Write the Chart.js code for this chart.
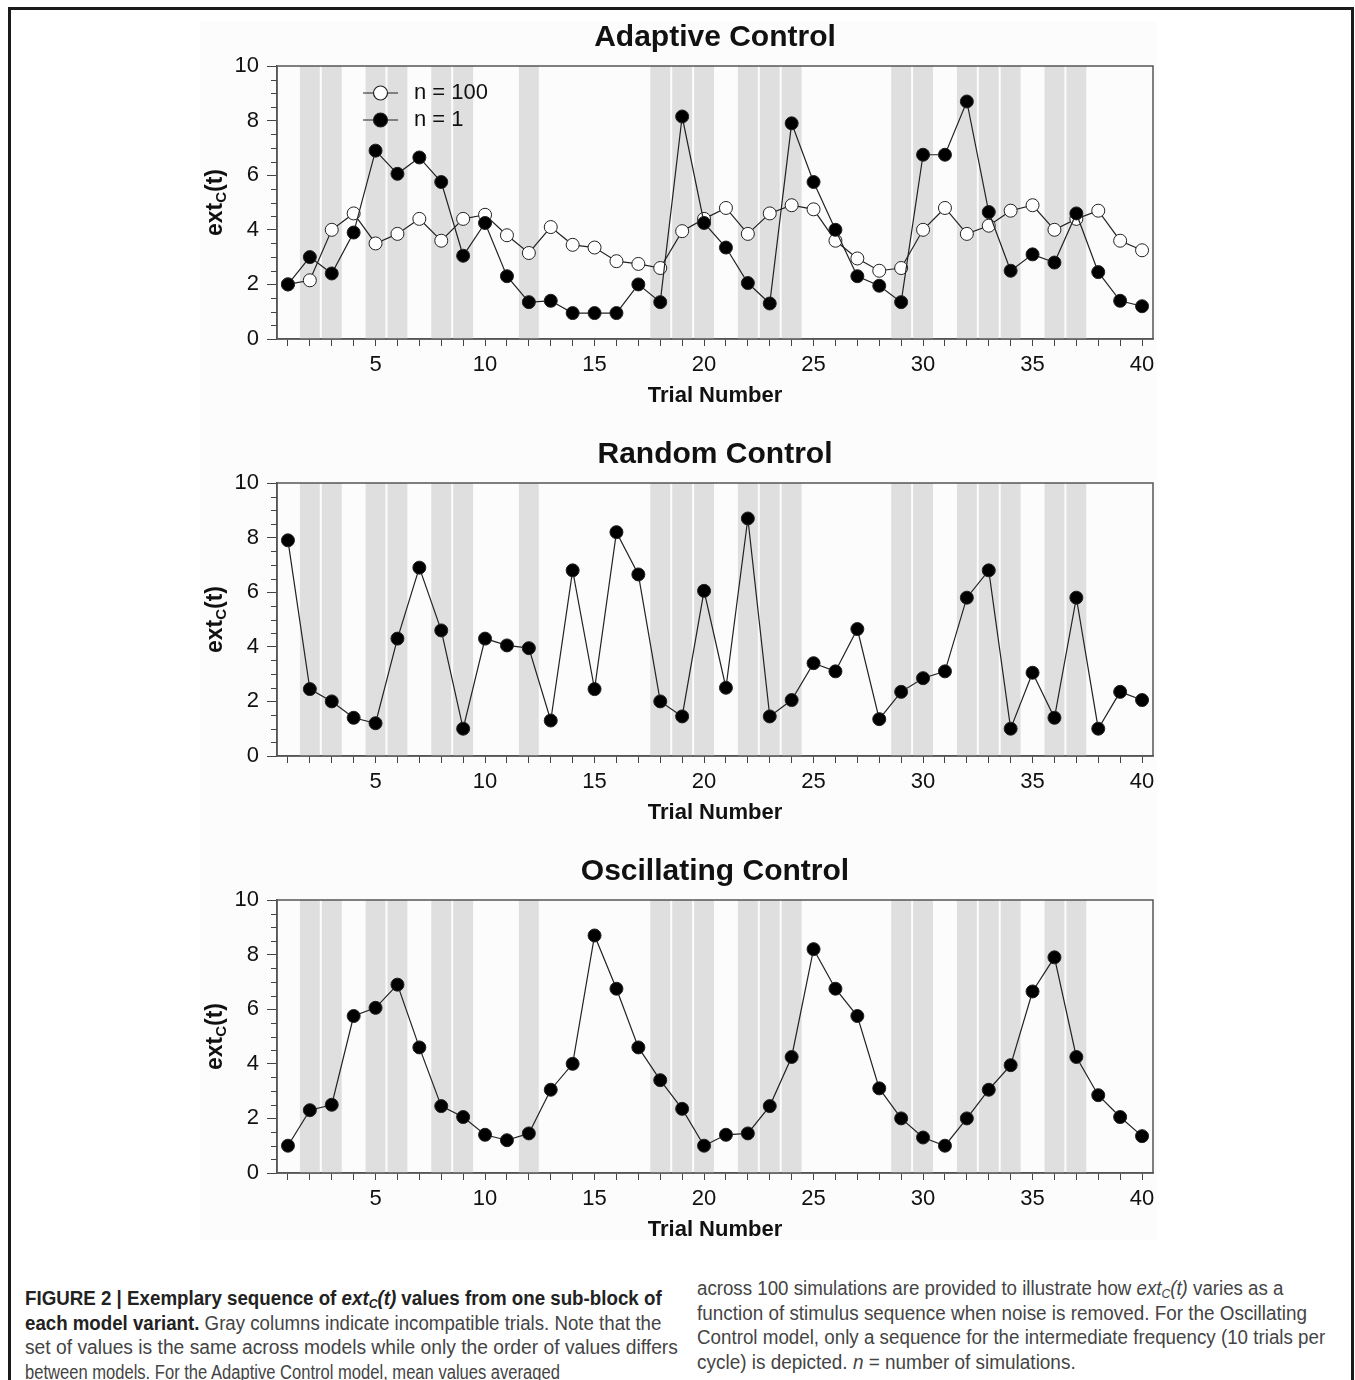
<!DOCTYPE html>
<html>
<head>
<meta charset="utf-8">
<script src="https://cdn.jsdelivr.net/npm/chart.js@4.4.1/dist/chart.umd.min.js"></script>
<style>
body { margin: 0; background: #fff; width: 1355px; height: 1380px; overflow: hidden; position: relative; font-family: "Liberation Sans", Arial, sans-serif; }
#frame { position: absolute; left: 8px; top: 7px; width: 1340px; height: 1420px; border: 3px solid #1b1b1b; }
#plotbg { position: absolute; left: 200px; top: 22px; width: 957px; height: 1218px; background: #fcfcfc; }
.panel { position: absolute; left: 150px; }
.cap { position: absolute; white-space: nowrap; font-size: 20px; line-height: 24px; height: 24px; color: #444; transform-origin: 0 50%; }
.cap b { color: #222; }
.cap sub { font-size: 0.65em; line-height: 0; vertical-align: -0.25em; }
</style>
</head>
<body>
<div id="frame"></div>
<div id="plotbg"></div>
<canvas id="adaptive" class="panel" width="1050" height="410" style="top:10px"></canvas>
<canvas id="random" class="panel" width="1050" height="410" style="top:427px"></canvas>
<canvas id="oscillating" class="panel" width="1050" height="410" style="top:844px"></canvas>

<div class="cap" data-w="637" style="left:25px;top:1286px"><b>FIGURE 2 | Exemplary sequence of <i>ext<sub>C</sub>(t)</i> values from one sub-block of</b></div>
<div class="cap" data-w="636" style="left:25px;top:1310.5px"><b>each model variant.</b> Gray columns indicate incompatible trials. Note that the</div>
<div class="cap" data-w="653" style="left:25px;top:1335px">set of values is the same across models while only the order of values differs</div>
<div class="cap" data-w="535" style="left:25px;top:1359.5px">between models. For the Adaptive Control model, mean values averaged</div>
<div class="cap" data-w="586" style="left:697px;top:1276px">across 100 simulations are provided to illustrate how <i>ext<sub>C</sub>(t)</i> varies as a</div>
<div class="cap" data-w="610" style="left:697px;top:1300.5px">function of stimulus sequence when noise is removed. For the Oscillating</div>
<div class="cap" data-w="628" style="left:697px;top:1325px">Control model, only a sequence for the intermediate frequency (10 trials per</div>
<div class="cap" data-w="379" style="left:697px;top:1349.5px">cycle) is depicted. <i>n</i> = number of simulations.</div>

<script>
// trial axis and incompatible (gray) trials
const trials = [1, 2, 3, 4, 5, 6, 7, 8, 9, 10, 11, 12, 13, 14, 15, 16, 17, 18, 19, 20,
    21, 22, 23, 24, 25, 26, 27, 28, 29, 30, 31, 32, 33, 34, 35, 36, 37, 38, 39, 40];
const incompatible = [2, 3, 5, 6, 8, 9, 12, 18, 19, 20, 22, 23, 24, 29, 30, 32, 33, 34, 36, 37];
const xTickLabels = [5, 10, 15, 20, 25, 30, 35, 40];
const yTicks = [0, 2, 4, 6, 8, 10];

// ext_C(t) values
const adaptiveN1 = [2.0, 3.0, 2.4, 3.9, 6.9, 6.05, 6.65, 5.75, 3.05, 4.25, 2.3, 1.35, 1.4, 0.95, 0.95, 0.95, 2.0, 1.35, 8.15, 4.25,
    3.35, 2.05, 1.3, 7.9, 5.75, 4.0, 2.3, 1.95, 1.35, 6.75, 6.75, 8.7, 4.65, 2.5, 3.1, 2.8, 4.6, 2.45, 1.4, 1.2];
const adaptiveN100 = [2.0, 2.15, 4.0, 4.6, 3.5, 3.85, 4.4, 3.6, 4.4, 4.55, 3.8, 3.15, 4.1, 3.45, 3.35, 2.85, 2.75, 2.6, 3.95, 4.4,
    4.8, 3.85, 4.6, 4.9, 4.75, 3.6, 2.95, 2.5, 2.6, 4.0, 4.8, 3.85, 4.15, 4.7, 4.9, 4.0, 4.4, 4.7, 3.6, 3.25];
const randomN1 = [7.9, 2.45, 2.0, 1.4, 1.2, 4.3, 6.9, 4.6, 1.0, 4.3, 4.05, 3.95, 1.3, 6.8, 2.45, 8.2, 6.65, 2.0, 1.45, 6.05,
    2.5, 8.7, 1.45, 2.05, 3.4, 3.1, 4.65, 1.35, 2.35, 2.85, 3.1, 5.8, 6.8, 1.0, 3.05, 1.4, 5.8, 1.0, 2.35, 2.05];
const oscillatingN1 = [1.0, 2.3, 2.5, 5.75, 6.05, 6.9, 4.6, 2.45, 2.05, 1.4, 1.2, 1.45, 3.05, 4.0, 8.7, 6.75, 4.6, 3.4, 2.35, 1.0,
    1.4, 1.45, 2.45, 4.25, 8.2, 6.75, 5.75, 3.1, 2.0, 1.3, 1.0, 2.0, 3.05, 3.95, 6.65, 7.9, 4.25, 2.85, 2.05, 1.35];

const family = '"Liberation Sans", Arial, sans-serif';
const ink = '#111';

// gray columns behind the data
const columns = {
    id: 'columns',
    beforeDatasetsDraw(chart) {
        const { ctx, chartArea } = chart;
        const xs = chart.scales.x;
        ctx.save();
        ctx.fillStyle = '#dfdfdf';
        incompatible.forEach(t => {
            const x0 = xs.getPixelForValue(t - 0.5) + 1;
            const x1 = xs.getPixelForValue(t + 0.5) - 1;
            ctx.fillRect(x0, chartArea.top, x1 - x0, chartArea.bottom - chartArea.top);
        });
        ctx.restore();
    }
};

// box, minor ticks, y title and legend
const extras = {
    id: 'extras',
    afterDraw(chart, args, opts) {
        const { ctx, chartArea } = chart;
        const ys = chart.scales.y;
        ctx.save();
        ctx.strokeStyle = '#555';
        ctx.lineWidth = 1.5;
        ctx.strokeRect(chartArea.left, chartArea.top, chartArea.right - chartArea.left, chartArea.bottom - chartArea.top);

        ctx.strokeStyle = '#444';
        ctx.lineWidth = 1;
        for (let v = 0.5; v < 10; v += 0.5) {
            if (v % 2 === 0) continue;
            const y = Math.round(ys.getPixelForValue(v)) + 0.5;
            ctx.beginPath();
            ctx.moveTo(chartArea.left - 6, y);
            ctx.lineTo(chartArea.left, y);
            ctx.stroke();
        }

        // ext_C(t)
        const big = `bold 23px ${family}`, small = `bold 15px ${family}`;
        ctx.font = big;
        const w1 = ctx.measureText('ext').width, w3 = ctx.measureText('(t)').width;
        ctx.font = small;
        const w2 = ctx.measureText('C').width;
        ctx.translate(65, (chartArea.top + chartArea.bottom) / 2);
        ctx.rotate(-Math.PI / 2);
        ctx.fillStyle = ink;
        ctx.textAlign = 'left';
        ctx.textBaseline = 'alphabetic';
        let x = -(w1 + w2 + w3) / 2;
        ctx.font = big; ctx.fillText('ext', x, 7); x += w1;
        ctx.font = small; ctx.fillText('C', x, 11); x += w2;
        ctx.font = big; ctx.fillText('(t)', x, 7);
        ctx.restore();

        if (!opts.legend) return;
        ctx.save();
        const items = chart.data.datasets.slice().reverse();
        items.forEach((ds, i) => {
            const y = chartArea.top + 27 + i * 27;
            const x0 = chartArea.left + 86;
            ctx.strokeStyle = ds.borderColor;
            ctx.lineWidth = 1.2;
            ctx.beginPath();
            ctx.moveTo(x0, y);
            ctx.lineTo(x0 + 35, y);
            ctx.stroke();
            ctx.beginPath();
            ctx.arc(x0 + 17.5, y, 7, 0, Math.PI * 2);
            ctx.fillStyle = ds.pointBackgroundColor;
            ctx.fill();
            ctx.strokeStyle = ds.pointBorderColor;
            ctx.stroke();
            ctx.fillStyle = ink;
            ctx.font = `22px ${family}`;
            ctx.textBaseline = 'middle';
            ctx.fillText(ds.label, chartArea.left + 137, y);
        });
        ctx.restore();
    }
};

function series(label, values, fill, order) {
    return {
        label: label,
        data: values.map((v, i) => ({ x: trials[i], y: v })),
        borderColor: '#222',
        borderWidth: 1.2,
        pointRadius: 6.5,
        pointBorderWidth: 1,
        pointBackgroundColor: fill,
        pointBorderColor: '#222',
        pointHoverRadius: 6.5,
        order: order
    };
}

function makeChart(id, title, datasets, legend) {
    return new Chart(document.getElementById(id).getContext('2d'), {
        type: 'line',
        data: { datasets: datasets },
        options: {
            responsive: false,
            animation: false,
            layout: { padding: { left: 0, right: 47, top: 0, bottom: 0 } },
            plugins: {
                legend: { display: false },
                tooltip: { enabled: false },
                title: {
                    display: true,
                    text: title,
                    fullSize: false,
                    color: ink,
                    font: { family: family, size: 30, weight: 'bold' },
                    padding: { top: 10, bottom: 10 }
                },
                extras: { legend: legend }
            },
            scales: {
                x: {
                    type: 'linear',
                    min: 0.5,
                    max: 40.5,
                    afterBuildTicks: s => { s.ticks = trials.map(v => ({ value: v })); },
                    afterFit: s => { s.height = 81; },
                    grid: { drawOnChartArea: false, drawTicks: true, tickLength: 7, color: '#444' },
                    border: { display: true, color: '#555', width: 1.5 },
                    ticks: {
                        autoSkip: false,
                        maxRotation: 0,
                        padding: 6,
                        color: ink,
                        font: { family: family, size: 22 },
                        callback: v => xTickLabels.includes(v) ? String(v) : ''
                    },
                    title: {
                        display: true,
                        text: 'Trial Number',
                        color: ink,
                        font: { family: family, size: 22, weight: 'bold' },
                        padding: { top: 0, bottom: 11 }
                    }
                },
                y: {
                    min: 0,
                    max: 10,
                    afterBuildTicks: s => { s.ticks = yTicks.map(v => ({ value: v })); },
                    afterFit: s => { s.width = 127; },
                    grid: { drawOnChartArea: false, drawTicks: true, tickLength: 10, color: '#444' },
                    border: { display: true, color: '#555', width: 1.5 },
                    ticks: { padding: 8, color: ink, font: { family: family, size: 22 } }
                }
            }
        },
        plugins: [columns, extras]
    });
}

makeChart('adaptive', 'Adaptive Control', [
    series('n = 1', adaptiveN1, '#000', 0),
    series('n = 100', adaptiveN100, '#fff', 1)
], true);
makeChart('random', 'Random Control', [series('n = 1', randomN1, '#000', 0)], false);
makeChart('oscillating', 'Oscillating Control', [series('n = 1', oscillatingN1, '#000', 0)], false);

// squeeze caption lines to the widths of the printed columns
document.querySelectorAll('.cap').forEach(el => {
    const w = el.scrollWidth;
    el.style.transform = `scaleX(${el.dataset.w / w})`;
});
</script>
</body>
</html>
